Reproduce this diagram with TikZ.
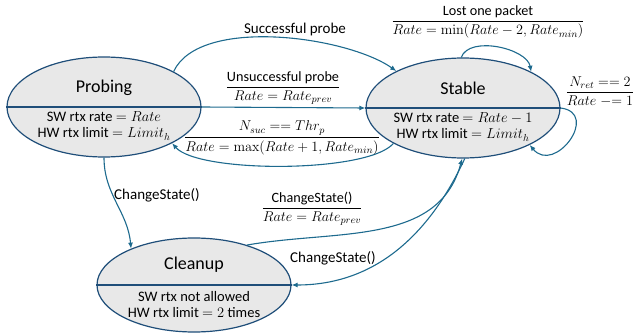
\documentclass[tikz,border=0pt]{standalone}
\usepackage{fix-cm}
\usepackage{amsmath}
\usepackage[no-math]{fontspec}
\setmainfont{Carlito}
\usetikzlibrary{arrows.meta,positioning,shapes.geometric}
\definecolor{stateblue}{HTML}{1F4E79}
\definecolor{edgeblue}{HTML}{1D6A8E}
\definecolor{statefill}{HTML}{E8E8E8}
\tikzset{
  state/.style={ellipse,draw=stateblue,fill=statefill,line width=1.2pt,
    minimum width=194pt,minimum height=100pt,inner sep=0pt},
  title/.style={font=\fontsize{18}{21}\selectfont},
  info/.style={font=\fontsize{14.5}{16}\selectfont,align=center},
  lbl/.style={font=\fontsize{15}{17}\selectfont,inner sep=1pt},
  divider/.style={stateblue,line width=1.2pt},
  trans/.style={-{Latex[length=6pt,width=5pt]},edgeblue,line width=1.1pt}
}
\newcommand{\cond}[2]{{\fontsize{14.2}{16}\selectfont$\genfrac{}{}{0.8pt}{0}{#1}{#2}$}}

\begin{document}
\begin{tikzpicture}[x=1pt,y=1pt]
  \useasboundingbox (0,0) rectangle (642,332);
  % States
  \node[state] (prob) at (104,225) {};
  \node[state] (stab) at (463,224) {};
  \node[state,minimum height=94pt] (clean) at (194,47) {};
  \draw[divider] (prob.west) -- (prob.east);
  \draw[divider] (stab.west) -- (stab.east);
  \draw[divider] (clean.west) -- (clean.east);
  % State texts
  \node[title] (probT) at (104,244) {Probing};
  \node[info] (probI) at (104,206) {SW rtx rate $= Rate$\\HW rtx limit $= Limit_h$};
  \node[title] (stabT) at (463,244) {Stable};
  \node[info] (stabI) at (463,205) {SW rtx rate $= Rate - 1$\\HW rtx limit $= Limit_h$};
  \node[title] (cleanT) at (194,67) {Cleanup};
  \node[info] (cleanI) at (194,27) {SW rtx not allowed\\HW rtx limit $= 2$ times};
  % Transitions
  \draw[trans] (prob.27) to[out=65,in=145,looseness=0.7] (stab.151);
  \draw[trans] (prob.east) -- (stab.west);
  \draw[trans] (stab.207) .. controls +(-26,-30) and +(26,-30) .. (prob.-28);
  \draw[trans] (stab.92) to[out=70,in=100,looseness=0.85] (stab.28);
  \draw[trans] (stab.east) .. controls +(40,-5) and +(25,-30) .. (stab.-29);
  \draw[trans] (prob.south) to[out=-90,in=95] (clean.150);
  \draw[trans] (clean.37) to[out=10,in=-105] (stab.-91);
  \draw[trans] (stab.-88) to[out=-115,in=0] (clean.east);
  % Transition labels
  \node[lbl] (succ) at (295,302) {Successful probe};
  \node[lbl] (unsucc) at (283,244) {\cond{\text{Unsuccessful probe}}{Rate = Rate_{prev}}};
  \node[lbl] (nsuc) at (282,194) {\cond{N_{suc} == Thr_p}{Rate = \max(Rate + 1, Rate_{min})}};
  \node[lbl] (lost) at (488,310) {\cond{\text{Lost one packet}}{Rate = \min(Rate - 2, Rate_{min})}};
  \node[lbl] (nret) at (600,240) {\cond{N_{ret} == 2}{Rate \mathrel{-}\mathrel{=} 1}};
  \node[lbl] (chgA) at (157,137) {ChangeState()};
  \node[lbl] (chgB) at (312,123) {\cond{\text{ChangeState()}}{Rate = Rate_{prev}}};
  \node[lbl] (chgC) at (333,74) {ChangeState()};
\end{tikzpicture}
\end{document}
